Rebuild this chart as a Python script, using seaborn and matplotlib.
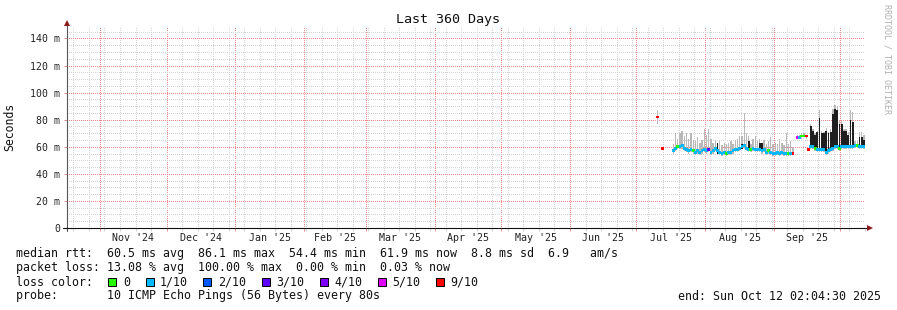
import numpy as np
import pandas as pd
import matplotlib
matplotlib.use("Agg")
import matplotlib.pyplot as plt
import matplotlib.dates as mdates
from matplotlib.ticker import NullFormatter, FixedLocator
from matplotlib.patches import Rectangle
from matplotlib.lines import Line2D
from matplotlib.transforms import blended_transform_factory
import seaborn as sns

nan = np.nan

# ------------------------------------------------------------------ data
first_day = "2025-07-10 02:04:30"          # one value per day from here
median_ms = [
    82, nan, 59, nan, nan, nan, nan,
    57, 59, 60, 60, 61, 59, 58, 57, 58, 57,
    56, 57, 56, 57, 58, 57, 58, 56, 57, 59,
    57, 56, 55, 56, 55, 56, 56, 57, 58, 58,
    59, 60, 61, 59, 58, 58, 59, 58, 58, 58,
    57, 58, 56, 57, 56, 55, 55, 56, 55, 56,
    55, 55, 55, 55, 55,
    nan,
    67, 67, 68, 68, 68,
    58,
    60, 60, 59, 58, 58, 58, 58, 56, 57, 58,
    59, 60, 60, 59, 60, 60, 60, 60, 60, 60,
    61, 61, 60, 60, 60,
]
smoke_lo = [
    77, nan, 58, nan, nan, nan, nan,
    55, 57, 58, 58, 58, 57, 56, 55, 56, 55,
    54, 55, 54, 55, 56, 55, 56, 54, 55, 57,
    55, 54, 53, 54, 53, 54, 54, 55, 56, 56,
    57, 58, 58, 57, 56, 56, 57, 56, 56, 56,
    55, 56, 54, 55, 54, 53, 53, 54, 53, 54,
    53, 53, 53, 53, 54,
    nan,
    66, 66, 66, 67, 66,
    57,
    58, 58, 57, 56, 56, 56, 56, 54, 55, 56,
    57, 58, 58, 57, 58, 58, 58, 58, 58, 58,
    59, 59, 58, 58, 58,
]
smoke_hi = [
    87, nan, 60, nan, nan, nan, nan,
    62, 70, 66, 70, 72, 68, 70, 66, 70, 65,
    64, 67, 63, 65, 73, 69, 73, 66, 63, 65,
    62, 64, 61, 63, 62, 63, 64, 62, 65, 66,
    68, 68, 85, 70, 68, 62, 66, 68, 64, 66,
    63, 65, 62, 64, 67, 62, 63, 62, 66, 63,
    61, 70, 62, 64, 60,
    nan,
    69, 69, 70, 70, 69,
    59,
    77, 73, 70, 72, 87, 72, 71, 74, 71, 73,
    88, 91, 90, 79, 79, 73, 73, 71, 87, 86,
    64, 64, 71, 71, 69,
]
dense_lo = [
    81, nan, 58, nan, nan, nan, nan,
    56, 58, 59, 59, 60, 58, 57, 56, 57, 56,
    55, 56, 55, 56, 57, 56, 57, 55, 56, 58,
    55, 55, 54, 55, 54, 55, 55, 56, 57, 57,
    58, 58, 60, 58, 57, 57, 58, 57, 57, 57,
    56, 57, 55, 56, 55, 54, 54, 55, 54, 55,
    54, 54, 54, 54, 54,
    nan,
    66, 66, 67, 67, 67,
    57,
    59, 59, 58, 57, 57, 57, 57, 55, 56, 57,
    58, 59, 59, 58, 59, 59, 59, 59, 59, 59,
    60, 60, 59, 59, 59,
]
dense_hi = [
    83, nan, 60, nan, nan, nan, nan,
    58, 60, 61, 61, 62, 60, 59, 58, 59, 58,
    57, 58, 57, 58, 59, 58, 59, 57, 58, 60,
    63, 57, 56, 57, 56, 57, 57, 58, 59, 59,
    60, 62, 62, 60, 64, 59, 60, 59, 59, 63,
    63, 59, 57, 58, 57, 56, 56, 57, 56, 57,
    56, 56, 56, 56, 56,
    nan,
    68, 68, 69, 69, 69,
    59,
    75, 72, 69, 71, 81, 70, 70, 72, 70, 71,
    84, 88, 87, 77, 77, 72, 72, 69, 80, 78,
    62, 62, 67, 67, 65,
]
loss_tenths = [
    9, -1, 9, -1, -1, -1, -1,
    1, 1, 0, 1, 1, 1, 1, 1, 1, 0,
    1, 1, 1, 1, 1, 1, 3, 1, 1, 1,
    1, 1, 1, 1, 0, 1, 1, 1, 1, 1,
    1, 1, 1, 1, 1, 0, 1, 1, 1, 1,
    1, 1, 1, 0, 1, 1, 1, 1, 1, 1,
    1, 1, 0, 1, 9,
    -1,
    5, 1, 0, 0, 9,
    9,
    1, 1, 0, 1, 1, 1, 1, 1, 1, 1,
    1, 1, 1, 0, 1, 1, 1, 1, 1, 1,
    1, 0, 1, 1, 1,
]

loss_values = [0, 1, 2, 3, 4, 5, 9]
loss_labels = ["0", "1/10", "2/10", "3/10", "4/10", "5/10", "9/10"]
loss_colors = ["#26ff00", "#00b8ff", "#0059ff", "#5e00ff", "#7e00ff", "#dd00ff", "#ff0000"]

y_ticks = [0, 20, 40, 60, 80, 100, 120, 140]
y_tick_labels = ["0", "20 m", "40 m", "60 m", "80 m", "100 m", "120 m", "140 m"]
month_labels = ["Nov '24", "Dec '24", "Jan '25", "Feb '25", "Mar '25", "Apr '25",
                "May '25", "Jun '25", "Jul '25", "Aug '25", "Sep '25"]
month_firsts = ["2024-11-01", "2024-12-01", "2025-01-01", "2025-02-01", "2025-03-01",
                "2025-04-01", "2025-05-01", "2025-06-01", "2025-07-01", "2025-08-01",
                "2025-09-01", "2025-10-01"]

legend_line1 = "median rtt:  60.5 ms avg  86.1 ms max  54.4 ms min  61.9 ms now  8.8 ms sd  6.9   am/s"
legend_line2 = "packet loss: 13.08 % avg  100.00 % max  0.00 % min  0.03 % now"
legend_line3 = "loss color:"
legend_line4 = "probe:       10 ICMP Echo Pings (56 Bytes) every 80s"
end_text = "end: Sun Oct 12 02:04:30 2025"
title_text = "Last 360 Days"
ylabel_text = "Seconds"
side_text = "RRDTOOL / TOBI OETIKER"

# ------------------------------------------------------------------ frame
assert len(median_ms) == len(smoke_lo) == len(smoke_hi) == len(dense_lo) == len(dense_hi) == len(loss_tenths) == 94

df = pd.DataFrame({
    "day": pd.date_range(first_day, periods=len(median_ms), freq="D"),
    "median": median_ms, "lo": smoke_lo, "hi": smoke_hi,
    "dlo": dense_lo, "dhi": dense_hi, "loss": loss_tenths,
})
df = df.dropna(subset=["median"]).copy()
df["mid"] = df["day"] + pd.Timedelta(hours=12)
df["loss_lab"] = df["loss"].map(dict(zip(loss_values, loss_labels)))

sns.set_style("white")
plt.rcParams["font.family"] = ["DejaVu Sans Mono"]

W, H = 897, 310
fig = plt.figure(figsize=(W / 100, H / 100), dpi=100)
fig.patch.set_facecolor("white")

def fx(px):
    return px / W

def fy(py):
    return 1 - py / H

ax = fig.add_axes([fx(67), fy(228), (865 - 67) / W, (228 - 26) / H])
ax.set_facecolor("white")

x0 = pd.Timestamp("2024-10-17 02:04:30")
x1 = pd.Timestamp("2025-10-12 02:04:30")

GRID_MINOR = "#d3d3d3"
GRID_MAJOR = "#f08a8a"
DOTS = (0, (1, 2))

# horizontal grid (minor every 5, major every 20)
for v in range(5, 150, 5):
    if v % 20:
        ax.axhline(v, color=GRID_MINOR, linestyle=DOTS, linewidth=0.72,
                   antialiased=False, zorder=0.6)
for v in y_ticks[1:]:
    ax.axhline(v, color=GRID_MAJOR, linestyle=DOTS, linewidth=0.72,
               antialiased=False, zorder=0.7)

# smoke (vertical strokes like the rrd smoke)
ax.bar(df["mid"], df["hi"] - df["lo"], bottom=df["lo"], width=0.6, align="center",
       color="#b9b9b9", linewidth=0, zorder=2)
ax.bar(df["mid"], df["dhi"] - df["dlo"], bottom=df["dlo"], width=0.8, align="center",
       color="#1f1f1f", linewidth=0, zorder=3)
# median coloured by loss
sns.scatterplot(data=df, x="mid", y="median", hue="loss_lab", hue_order=loss_labels,
                palette=dict(zip(loss_labels, loss_colors)), marker="s", s=4,
                linewidth=0, legend=False, ax=ax, zorder=4)

ax.set_xlim(x0, x1)
ax.set_ylim(0, 149.2)
ax.set_xlabel("")
ax.set_ylabel("")

# vertical grid: months (major) and weeks (minor)
ax.xaxis.set_major_locator(mdates.MonthLocator())
ax.xaxis.set_minor_locator(mdates.WeekdayLocator(byweekday=mdates.SU))
ax.xaxis.set_major_formatter(NullFormatter())
ax.xaxis.set_minor_formatter(NullFormatter())
ax.yaxis.set_major_locator(FixedLocator(y_ticks))
ax.set_yticks(y_ticks)
ax.set_yticklabels(y_tick_labels)
ax.set_axisbelow(True)
ax.grid(axis="x", which="minor", color=GRID_MINOR, linestyle=DOTS, linewidth=0.72,
        antialiased=False)
ax.grid(axis="x", which="major", color=GRID_MAJOR, linestyle=DOTS, linewidth=0.72,
        antialiased=False)
ax.grid(axis="y", visible=False)
for s in ax.spines.values():
    s.set_visible(False)
ax.tick_params(axis="y", which="major", length=2, width=0.7, color=GRID_MAJOR,
               pad=3, labelsize=7.1, labelcolor="#222222", left=True)
ax.tick_params(axis="y", which="minor", length=0)
ax.tick_params(axis="x", which="major", length=2, width=0.7, color=GRID_MAJOR,
               direction="out", bottom=True)
ax.tick_params(axis="x", which="minor", length=2, width=0.7, color=GRID_MINOR,
               direction="out", bottom=True)

# month labels centred in each month
tr = blended_transform_factory(ax.transData, fig.transFigure)
for lab, a, b in zip(month_labels, month_firsts[:-1], month_firsts[1:]):
    ta, tb = pd.Timestamp(a), pd.Timestamp(b)
    mid = ta + (tb - ta) / 2
    ax.text(mdates.date2num(mid), fy(238), lab, transform=tr, ha="center", va="center",
            fontsize=7.2, color="#222222")

# axis lines and arrows
fig.add_artist(Line2D([fx(67), fx(67)], [fy(231), fy(25)], color="#555555", lw=0.8))
fig.add_artist(Line2D([fx(63), fx(868)], [fy(228), fy(228)], color="#111111", lw=0.8))
fig.add_artist(Line2D([fx(67)], [fy(23)], marker="^", color="#8b1a1a", markersize=4,
                      markeredgewidth=0))
fig.add_artist(Line2D([fx(870)], [fy(228)], marker=">", color="#8b1a1a", markersize=4,
                      markeredgewidth=0))

# texts
fig.text(fx(448), fy(19), title_text, ha="center", va="center", fontsize=9.6, color="#111111")
fig.text(fx(10), fy(127), ylabel_text, rotation=90, ha="center", va="center",
         fontsize=8.3, color="#111111")
fig.text(fx(887), fy(4), side_text, rotation=270, ha="center", va="top",
         fontsize=6, color="#b0b0b0")

lfs = 8.4
fig.text(fx(16), fy(254), legend_line1, ha="left", va="center", fontsize=lfs, color="#111111")
fig.text(fx(16), fy(268), legend_line2, ha="left", va="center", fontsize=lfs, color="#111111")
fig.text(fx(16), fy(282), legend_line3, ha="left", va="center", fontsize=lfs, color="#111111")
fig.text(fx(16), fy(296), legend_line4, ha="left", va="center", fontsize=lfs, color="#111111")
fig.text(fx(881), fy(296), end_text, ha="right", va="center", fontsize=lfs, color="#111111")

sq_x = [108, 146, 203, 262, 320, 378, 436]
tx_x = [123, 160, 218, 276, 334, 392, 450]
for sx, tx, lab, col in zip(sq_x, tx_x, loss_labels, loss_colors):
    fig.add_artist(Rectangle((fx(sx), fy(286)), 8 / W, 8 / H, transform=fig.transFigure,
                             facecolor=col, edgecolor="black", linewidth=0.7))
    fig.text(fx(tx), fy(282), lab, ha="left", va="center", fontsize=lfs, color="#111111")

fig.savefig("out.png", dpi=100, facecolor="white")
